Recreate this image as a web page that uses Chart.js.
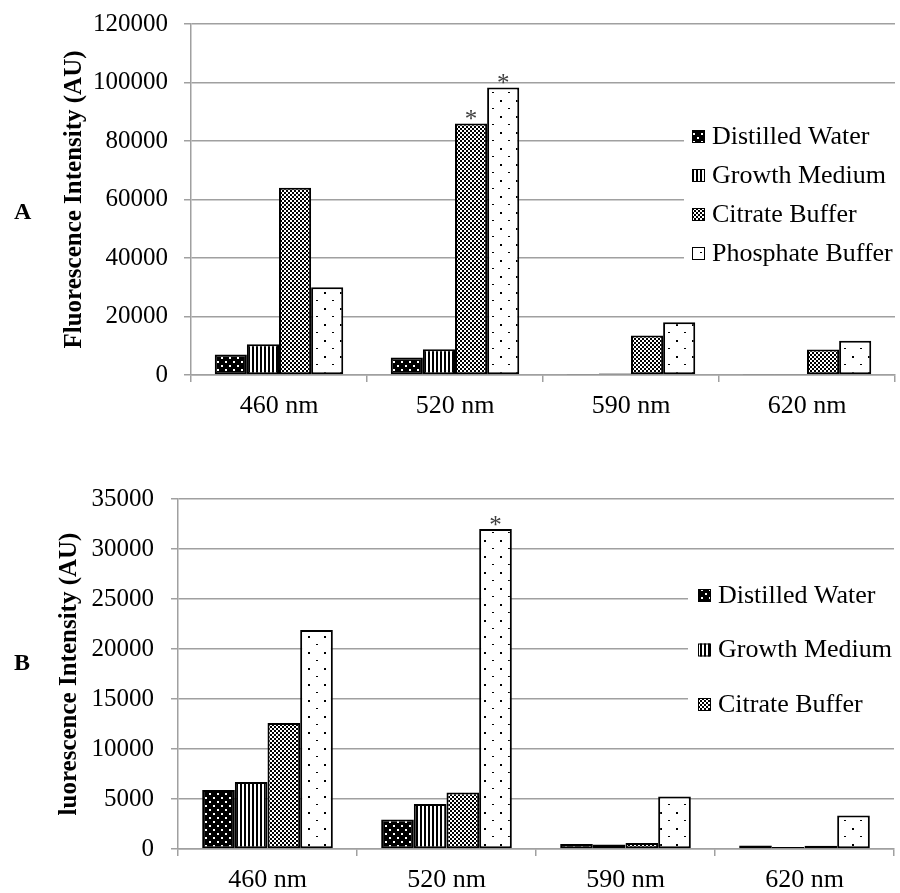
<!DOCTYPE html>
<html>
<head>
<meta charset="utf-8">
<script src="https://cdn.jsdelivr.net/npm/chart.js@4.4.1/dist/chart.umd.min.js"></script>
<style>
  html, body { margin: 0; padding: 0; background: #fff; overflow: hidden; }
  body { width: 900px; height: 893px; position: relative; }
  .panel { position: absolute; left: 0; width: 900px; }
  #wrapA { top: 0; height: 431px; }
  #wrapB { top: 440px; height: 464px; }
  .tag { position: absolute; left: 14px; font: bold 24px "Liberation Serif", serif; line-height: 24px; z-index: 2; }
</style>
</head>
<body>
<div class="panel" id="wrapA"><canvas id="chartA"></canvas></div>
<div class="panel" id="wrapB"><canvas id="chartB"></canvas></div>
<div class="tag" style="top:199px">A</div>
<div class="tag" style="top:650px">B</div>
<script>
// categories and series
const wavelengths = ['460 nm', '520 nm', '590 nm', '620 nm'];
const seriesNames = ['Distilled Water', 'Growth Medium', 'Citrate Buffer', 'Phosphate Buffer'];

// panel A values (AU)
const waterA = [7000, 6000, 300, 200];
const growthA = [10500, 8800, 500, 300];
const citrateA = [64000, 86000, 13500, 8700];
const phosphateA = [30000, 98300, 18000, 11700];

// panel B values (AU)
const waterB = [5900, 2950, 500, 350];
const growthB = [6700, 4500, 450, 200];
const citrateB = [12600, 5650, 600, 330];
const phosphateB = [21900, 32000, 5250, 3350];

// axis ticks
const ticksA = [0, 20000, 40000, 60000, 80000, 100000, 120000];
const ticksB = [0, 5000, 10000, 15000, 20000, 25000, 30000, 35000];

// significance marks: [series index, category index]
const starsA = [[2, 1], [3, 1]];
const starsB = [[3, 1]];

Chart.defaults.font.family = '"Liberation Serif", serif';
Chart.defaults.color = '#000';

function makePattern(kind) {
  const c = document.createElement('canvas');
  const g = c.getContext('2d');
  if (kind === 'water') {
    c.width = 8; c.height = 8;
    g.fillStyle = '#000'; g.fillRect(0, 0, 8, 8);
    g.fillStyle = '#fff'; g.fillRect(1, 1, 2, 2); g.fillRect(5, 5, 2, 2);
  } else if (kind === 'growth') {
    c.width = 4; c.height = 4;
    g.fillStyle = '#fff'; g.fillRect(0, 0, 4, 4);
    g.fillStyle = '#000'; g.fillRect(0, 0, 2, 4);
  } else if (kind === 'citrate') {
    c.width = 4; c.height = 4;
    g.fillStyle = '#fff'; g.fillRect(0, 0, 4, 4);
    g.fillStyle = '#000'; g.fillRect(0, 0, 2, 2); g.fillRect(2, 2, 2, 2);
  } else {
    c.width = 16; c.height = 16;
    g.fillStyle = '#fff'; g.fillRect(0, 0, 16, 16);
    g.fillStyle = '#000'; g.fillRect(4, 4, 2, 2); g.fillRect(12, 12, 2, 1);
  }
  return g.createPattern(c, 'repeat');
}
const fills = [makePattern('water'), makePattern('growth'), makePattern('citrate'), makePattern('phosphate')];

// legend drawn over the right part of the plot, like the original
const sideLegend = {
  id: 'sideLegend',
  afterDraw(chart, args, o) {
    const ctx = chart.ctx;
    ctx.save();
    ctx.fillStyle = '#fff';
    ctx.fillRect(o.clearX, o.clearY, o.clearW, o.clearH);
    ctx.font = '26px "Liberation Serif"';
    ctx.textBaseline = 'middle';
    chart.data.datasets.slice(0, o.count).forEach((ds, i) => {
      const y = o.y + i * o.gap;
      ctx.fillStyle = ds.backgroundColor;
      ctx.fillRect(o.x, y - 6, 13, 13);
      ctx.strokeStyle = '#000';
      ctx.lineWidth = 1;
      ctx.strokeRect(o.x + 0.5, y - 5.5, 12, 12);
      ctx.fillStyle = '#000';
      ctx.fillText(ds.label, o.x + 20, y + 1);
    });
    ctx.restore();
  }
};

const starMarks = {
  id: 'starMarks',
  afterDatasetsDraw(chart, args, o) {
    const ctx = chart.ctx;
    ctx.save();
    ctx.font = '25px "Liberation Serif"';
    ctx.fillStyle = '#404040';
    ctx.textAlign = 'center';
    ctx.textBaseline = 'alphabetic';
    o.marks.forEach(([d, i]) => {
      const bar = chart.getDatasetMeta(d).data[i];
      ctx.fillText('*', bar.x, bar.y + 4);
    });
    ctx.restore();
  }
};

function buildChart(id, values, ticks, cfg) {
  const datasets = values.map((v, i) => ({
    label: seriesNames[i],
    data: v,
    backgroundColor: fills[i],
    borderColor: '#000',
    borderWidth: 2,
    borderSkipped: false,
    barPercentage: 1,
    categoryPercentage: 0.73
  }));
  return new Chart(document.getElementById(id), {
    type: 'bar',
    data: { labels: wavelengths, datasets: datasets },
    plugins: [sideLegend, starMarks],
    options: {
      responsive: true,
      maintainAspectRatio: false,
      animation: false,
      devicePixelRatio: 1,
      layout: { padding: cfg.padding },
      plugins: {
        legend: { display: false },
        tooltip: { enabled: false },
        sideLegend: cfg.legend,
        starMarks: { marks: cfg.stars }
      },
      scales: {
        x: {
          grid: { display: true, drawOnChartArea: false, offset: true, tickLength: 7, color: '#a0a0a0', lineWidth: 1.5 },
          border: { color: '#a0a0a0', width: 1.5 },
          ticks: { color: '#000', padding: 11, font: { size: 26, lineHeight: 1 } }
        },
        y: {
          min: 0,
          max: ticks[ticks.length - 1],
          afterBuildTicks: s => { s.ticks = ticks.map(v => ({ value: v })); },
          afterFit: s => { s.width = cfg.axisWidth; s.paddingTop = 0; s.paddingBottom = 0; },
          grid: { color: '#a0a0a0', lineWidth: 1.5, tickLength: 7 },
          border: { color: '#a0a0a0', width: 1.5 },
          ticks: { color: '#000', padding: cfg.tickPad, font: { size: 25 }, callback: v => String(v) },
          title: {
            display: true,
            text: cfg.title,
            color: '#000',
            font: { size: 25, weight: 'bold' },
            padding: { top: cfg.titlePad, bottom: 0 }
          }
        }
      }
    }
  });
}

buildChart('chartA', [waterA, growthA, citrateA, phosphateA], ticksA, {
  padding: { top: 24, right: 5, bottom: 1, left: 0 },
  axisWidth: 191,
  tickPad: 16,
  titlePad: 60,
  title: 'Fluorescence Intensity (AU)',
  stars: starsA,
  legend: { count: 4, x: 692, y: 136, gap: 39, clearX: 684, clearY: 116, clearW: 216, clearH: 156 }
});

buildChart('chartB', [waterB, growthB, citrateB, phosphateB], ticksB, {
  padding: { top: 59, right: 6, bottom: 0, left: 0 },
  axisWidth: 178,
  tickPad: 17,
  titlePad: 55,
  title: 'luorescence Intensity (AU)',
  stars: starsB,
  legend: { count: 3, x: 698, y: 155, gap: 54.5, clearX: 688, clearY: 132, clearW: 212, clearH: 153 }
});
</script>
</body>
</html>
